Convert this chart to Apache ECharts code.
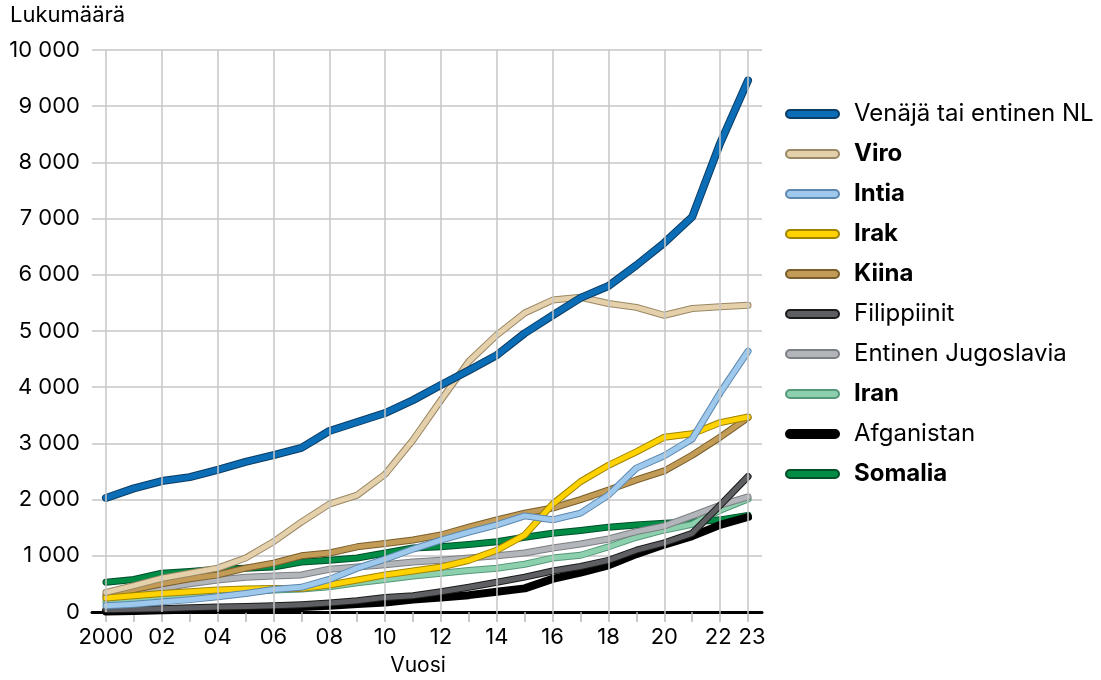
<!DOCTYPE html>
<html>
<head>
<meta charset="utf-8">
<script src="https://cdn.jsdelivr.net/npm/echarts@6/dist/echarts.min.js"></script>
<style>
html,body{margin:0;padding:0;background:#fff;}
#chart{width:1101px;height:680px;}
</style>
</head>
<body>
<div id="chart"></div>
<script>
const years = ['2000','2001','2002','2003','2004','2005','2006','2007','2008','2009','2010','2011','2012','2013','2014','2015','2016','2017','2018','2019','2020','2021','2022','2023'];
const yTicks = [0,1000,2000,3000,4000,5000,6000,7000,8000,9000,10000];

const venaja = [2030,2200,2330,2400,2530,2670,2790,2920,3220,3380,3540,3770,4040,4300,4570,4960,5280,5590,5800,6170,6570,7030,8340,9460];
const viro = [350,470,600,690,780,960,1250,1600,1920,2080,2450,3060,3770,4460,4930,5320,5550,5600,5490,5420,5280,5400,5430,5460];
const intia = [110,140,180,220,270,330,400,440,580,780,940,1120,1280,1420,1550,1710,1640,1760,2080,2560,2780,3080,3900,4640];
const irak = [250,290,330,360,390,410,420,420,480,570,660,730,800,920,1100,1370,1920,2320,2610,2850,3110,3170,3370,3470];
const kiina = [300,400,500,590,660,780,870,1000,1050,1160,1220,1280,1370,1510,1640,1760,1850,2000,2170,2350,2510,2790,3110,3460];
const filippiinit = [40,50,60,75,90,100,110,130,160,200,260,290,360,440,530,620,730,810,920,1100,1230,1400,1900,2410];
const jugoslavia = [250,330,420,500,570,620,640,660,760,800,840,890,920,960,1000,1050,1140,1210,1300,1430,1530,1710,1900,2050];
const iran = [180,210,250,290,330,360,390,410,450,520,580,640,690,740,780,850,960,1010,1160,1330,1460,1560,1810,2010];
const afganistan = [10,20,30,40,50,60,80,90,110,140,170,220,260,300,360,420,590,700,830,1030,1200,1350,1550,1690];
const somalia = [530,580,690,720,760,780,800,890,920,960,1050,1140,1160,1200,1250,1330,1400,1450,1510,1550,1580,1600,1640,1720];

const names = ['Venäjä tai entinen NL','Viro','Intia','Irak','Kiina','Filippiinit','Entinen Jugoslavia','Iran','Afganistan','Somalia'];
const boldNames = ['Viro','Intia','Irak','Kiina','Iran','Somalia'];
const dataSets = [venaja,viro,intia,irak,kiina,filippiinit,jugoslavia,iran,afganistan,somalia];
const colors = ['#0a6db5','#e4d0ab','#9fc9ec','#ffd200','#c29b56','#5d5f63','#b2b5b9','#8dd0ae','#000000','#008c45'];
const borders = ['#0b3d66','#9a8864','#5d88ae','#a08400','#7a5e2c','#1c1c1c','#7c7f83','#56987a','#000000','#00502a'];
const widths = [6,5,5,5,5,5,5,5,6,5];

const series = [];
series.push({
  name:'_grid', type:'line', data:[], z:1, silent:true,
  markLine:{
    silent:true, symbol:['none','none'], label:{show:false},
    lineStyle:{color:'#c6c6c6', width:1.5, type:'solid'},
    data: years.filter((y,i)=> i%2===0 || i===23).map(y=>({xAxis:y}))
  }
});
for (let k = names.length-1; k >= 0; k--) {
  series.push({
    name:'_o'+k, type:'line', data:dataSets[k], showSymbol:false, silent:true, z:3,
    lineStyle:{color:borders[k], width:widths[k]+2, cap:'round', join:'round'},
    itemStyle:{color:borders[k]}
  });
  series.push({
    name:names[k], type:'line', data:dataSets[k], showSymbol:false, z:3,
    lineStyle:{color:colors[k], width:widths[k], cap:'round', join:'round'},
    itemStyle:{color:colors[k], borderColor:borders[k], borderWidth:1}
  });
}

const FONT = 'Inter';
const chart = echarts.init(document.getElementById('chart'));
chart.setOption({
  animation:false,
  backgroundColor:'#ffffff',
  textStyle:{fontFamily:FONT},
  grid:{left:92, right:339, top:50, bottom:68, containLabel:false},
  legend:{
    data:names,
    orient:'vertical',
    left:785, top:102,
    padding:0,
    icon:'path://M4,0 L49,0 A4,4 0 0 1 49,8 L4,8 A4,4 0 0 1 4,0 Z',
    itemWidth:53, itemHeight:8,
    itemGap:16,
    formatter: n => boldNames.includes(n) ? '{b|'+n+'}' : '{n|'+n+'}',
    textStyle:{
      fontFamily:FONT, fontSize:24, color:'#000', padding:[0,0,0,10],
      rich:{
        b:{fontFamily:FONT, fontSize:24, fontWeight:'bold', color:'#000', lineHeight:26},
        n:{fontFamily:FONT, fontSize:24, color:'#000', lineHeight:26}
      }
    },
    selectedMode:false
  },
  xAxis:{
    type:'category', data:years, boundaryGap:true,
    axisLine:{show:true, lineStyle:{color:'#000', width:3}},
    axisTick:{show:true, alignWithLabel:true, interval:0, length:10, lineStyle:{color:'#b8b8b8', width:1.5}},
    axisLabel:{
      interval:(i)=> i%2===0 || i===23,
      formatter:(v,i)=> i===0 ? v : (i===23 ? '{r|'+v.slice(2)+'}' : (i===22 ? '{l|'+v.slice(2)+'}' : v.slice(2))),
      fontFamily:FONT, fontSize:22, color:'#000', margin:14,
      rich:{
        r:{fontFamily:FONT, fontSize:22, color:'#000', padding:[0,0,0,8]},
        l:{fontFamily:FONT, fontSize:22, color:'#000', padding:[0,4,0,0]}
      }
    },
    splitLine:{show:false}
  },
  yAxis:{
    type:'value', min:0, max:10000, interval:1000,
    axisLine:{show:false}, axisTick:{show:false},
    axisLabel:{
      formatter:v=> String(v).replace(/\B(?=(\d{3})+(?!\d))/g,' '),
      fontFamily:FONT, fontSize:22, color:'#000', margin:12
    },
    splitLine:{show:true, lineStyle:{color:'#c6c6c6', width:1.5}}
  },
  graphic:[
    {type:'text', left:10, top:4, style:{text:'Lukumäärä', font:'22px '+FONT, fill:'#000'}},
    {type:'text', x:418, y:666, style:{text:'Vuosi', font:'21px '+FONT, fill:'#000', textAlign:'center', textVerticalAlign:'middle'}}
  ],
  series:series
});
</script>
</body>
</html>
